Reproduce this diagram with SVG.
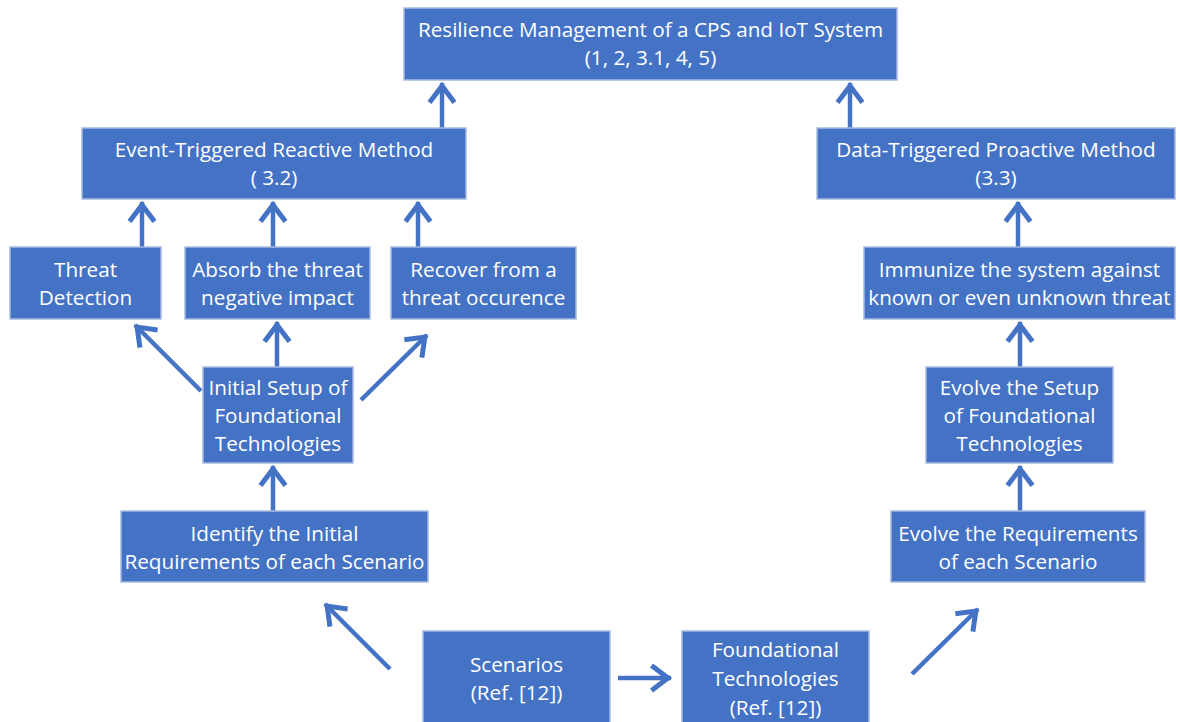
<svg xmlns="http://www.w3.org/2000/svg" width="1180" height="722" viewBox="0 0 1180 722">
<defs>
<style>
.box{fill:#4472C4;stroke:#A7BADF;stroke-width:1.5}
.t{font-family:"Open Sans","Noto Sans",sans-serif;font-size:20.7px;fill:#FFFFFF;text-anchor:middle}
.c{stroke:#4472C4;stroke-width:4.5;fill:none;marker-end:url(#ah)}
</style>
<marker id="ah" markerUnits="userSpaceOnUse" viewBox="-22 -16 28 32" refX="3" refY="0" markerWidth="28" markerHeight="32" orient="auto">
<path d="M-16.5,-12.5 L0,0 L-16.5,12.5" fill="none" stroke="#4472C4" stroke-width="5" stroke-linejoin="miter"/>
</marker>
</defs>
<rect width="1180" height="722" fill="#FFFFFF"/>
<g id="connectors">
<line class="c" x1="442" y1="128" x2="442" y2="83"/>
<line class="c" x1="850" y1="128" x2="850" y2="83"/>
<line class="c" x1="142" y1="247" x2="142" y2="202"/>
<line class="c" x1="273" y1="247" x2="273" y2="202"/>
<line class="c" x1="418" y1="247" x2="418" y2="202"/>
<line class="c" x1="1018" y1="247" x2="1018" y2="202"/>
<line class="c" x1="201" y1="391" x2="135" y2="325"/>
<line class="c" x1="277" y1="367" x2="277" y2="322"/>
<line class="c" x1="361" y1="400" x2="427" y2="335"/>
<line class="c" x1="273" y1="511" x2="273" y2="466"/>
<line class="c" x1="1020" y1="367" x2="1020" y2="322"/>
<line class="c" x1="1020" y1="511" x2="1020" y2="466"/>
<line class="c" x1="390" y1="669" x2="325" y2="604"/>
<line class="c" x1="618" y1="678" x2="671" y2="678"/>
<line class="c" x1="912" y1="674" x2="978" y2="609"/>
</g>
<g id="resilience">
<rect class="box" x="404" y="8" width="493" height="72"/>
<text class="t" x="650.5" y="37">Resilience Management of a CPS and IoT System</text>
<text class="t" x="650.5" y="65">(1, 2, 3.1, 4, 5)</text>
</g>
<g id="event-triggered">
<rect class="box" x="82" y="128" width="384" height="71"/>
<text class="t" x="274" y="157">Event-Triggered Reactive Method</text>
<text class="t" x="274" y="185">( 3.2)</text>
</g>
<g id="data-triggered">
<rect class="box" x="817" y="128" width="358" height="71"/>
<text class="t" x="996" y="157">Data-Triggered Proactive Method</text>
<text class="t" x="996" y="185">(3.3)</text>
</g>
<g id="threat-detection">
<rect class="box" x="10" y="247" width="151" height="72"/>
<text class="t" x="85.5" y="277">Threat</text>
<text class="t" x="85.5" y="305">Detection</text>
</g>
<g id="absorb">
<rect class="box" x="185" y="247" width="185" height="72"/>
<text class="t" x="277.5" y="277">Absorb the threat</text>
<text class="t" x="277.5" y="305">negative impact</text>
</g>
<g id="recover">
<rect class="box" x="391" y="247" width="185" height="72"/>
<text class="t" x="483.5" y="277">Recover from a</text>
<text class="t" x="483.5" y="305">threat occurence</text>
</g>
<g id="immunize">
<rect class="box" x="864" y="247" width="311" height="72"/>
<text class="t" x="1019.5" y="277">Immunize the system against</text>
<text class="t" x="1019.5" y="305">known or even unknown threat</text>
</g>
<g id="initial-setup">
<rect class="box" x="203" y="367" width="150" height="96"/>
<text class="t" x="278" y="395">Initial Setup of</text>
<text class="t" x="278" y="423">Foundational</text>
<text class="t" x="278" y="451">Technologies</text>
</g>
<g id="evolve-setup">
<rect class="box" x="926" y="367" width="187" height="96"/>
<text class="t" x="1019.5" y="395">Evolve the Setup</text>
<text class="t" x="1019.5" y="423">of Foundational</text>
<text class="t" x="1019.5" y="451">Technologies</text>
</g>
<g id="identify">
<rect class="box" x="121" y="511" width="307" height="71"/>
<text class="t" x="274.5" y="541">Identify the Initial</text>
<text class="t" x="274.5" y="568.5">Requirements of each Scenario</text>
</g>
<g id="evolve-requirements">
<rect class="box" x="891" y="511" width="254" height="71"/>
<text class="t" x="1018" y="541">Evolve the Requirements</text>
<text class="t" x="1018" y="568.5">of each Scenario</text>
</g>
<g id="scenarios">
<rect class="box" x="423" y="631" width="187" height="95"/>
<text class="t" x="516.5" y="672">Scenarios</text>
<text class="t" x="516.5" y="700">(Ref. [12])</text>
</g>
<g id="foundational">
<rect class="box" x="682" y="631" width="187" height="95"/>
<text class="t" x="775.5" y="657">Foundational</text>
<text class="t" x="775.5" y="686">Technologies</text>
<text class="t" x="775.5" y="715">(Ref. [12])</text>
</g>
</svg>
